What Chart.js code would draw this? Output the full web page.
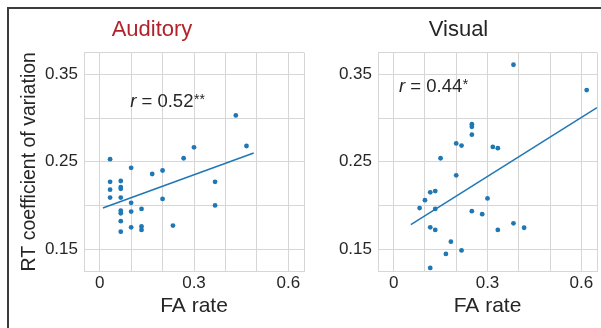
<!DOCTYPE html>
<html><head><meta charset="utf-8">
<script src="https://cdn.jsdelivr.net/npm/chart.js@4.4.1/dist/chart.umd.min.js"></script>
<style>
html,body{margin:0;padding:0;background:#fff;width:601px;height:328px;overflow:hidden;}
#frame{position:absolute;left:7px;top:7px;width:600px;height:330px;border-left:2px solid #3c3c3c;border-top:2px solid #3c3c3c;}
#c1{position:absolute;left:0;top:0;}
#c2{position:absolute;left:320px;top:0;}
</style></head><body>
<div id="frame"></div>
<canvas id="c1" width="320" height="328"></canvas>
<canvas id="c2" width="281" height="328"></canvas>
<script>
// ---- Data ----
const panelTitles = ['Auditory', 'Visual'];
const xAxisTitle = 'FA rate';
const yAxisTitle = 'RT coefficient of variation';
const xTickValues = [0, 0.3, 0.6];
const xTickLabels = ['0', '0.3', '0.6'];
const yTickValues = [0.15, 0.25, 0.35];
const yTickLabels = ['0.15', '0.25', '0.35'];
const xGridValues = [-0.05, 0, 0.1, 0.2, 0.3, 0.4, 0.5, 0.6, 0.65];
const yGridValues = [0.125, 0.15, 0.2, 0.25, 0.3, 0.35, 0.375];

const audFA = [0.033,0.033,0.033,0.033,
               0.067,0.067,0.067,0.067,0.067,0.067,0.067,0.067,
               0.1,0.1,0.1,0.1,
               0.133,0.133,0.133,
               0.167,0.2,0.2,0.233,0.267,0.3,0.367,0.367,0.433,0.467];
const audRT = [0.253,0.227,0.218,0.209,
               0.228,0.221,0.219,0.209,0.194,0.191,0.182,0.170,
               0.243,0.203,0.193,0.175,
               0.196,0.176,0.172,
               0.236,0.240,0.2075,0.177,0.254,0.2665,0.227,0.200,0.303,0.268];

const visFA = [0.383,0.617,0.25,0.25,0.25,0.2,0.217,0.317,0.333,0.15,0.2,0.117,0.133,0.1,
               0.083,0.133,0.3,0.25,0.283,0.117,0.133,0.333,0.383,0.417,0.183,0.167,0.217,0.117];
const visRT = [0.361,0.332,0.293,0.290,0.281,0.271,0.2685,0.267,0.2655,0.254,0.2345,0.215,0.2165,0.206,
               0.197,0.196,0.208,0.1935,0.190,0.175,0.172,0.172,0.1795,0.1745,0.1585,0.1445,0.1485,0.1285];

const audFitFA = [0.01, 0.49];
const audFitRT = [0.197, 0.260];
const visFitFA = [0.055, 0.65];
const visFitRT = [0.178, 0.312];

const audStat = {r: 'r', rest: ' = 0.52', stars: '**'};
const visStat = {r: 'r', rest: ' = 0.44', stars: '*'};

// ---- Styling ----
const FONT = "'Liberation Sans', Arial, Helvetica, sans-serif";
const BLUE = '#1f77b4';
const GRID = '#d6d6d6';
const TEXT = '#262626';

function pts(xs, ys){ return xs.map((x,i)=>({x:x, y:ys[i]})); }
function labelFor(v, vals, labels){
  for (let i = 0; i < vals.length; i++) if (Math.abs(v - vals[i]) < 1e-6) return labels[i];
  return '';
}

const annotPlugin = {
  id: 'statText',
  afterDatasetsDraw(chart, args, opts){
    const ctx = chart.ctx;
    const px = chart.scales.x.getPixelForValue(opts.x);
    const py = chart.scales.y.getPixelForValue(opts.y);
    ctx.save();
    ctx.fillStyle = TEXT;
    ctx.textBaseline = 'alphabetic';
    ctx.textAlign = 'left';
    ctx.font = 'italic 18.5px ' + FONT;
    ctx.fillText(opts.stat.r, px, py);
    let w = ctx.measureText(opts.stat.r).width;
    ctx.font = '18.5px ' + FONT;
    ctx.fillText(opts.stat.rest, px + w, py);
    w += ctx.measureText(opts.stat.rest).width;
    ctx.font = '14px ' + FONT;
    ctx.fillText(opts.stat.stars, px + w + 0.5, py - 3);
    ctx.restore();
  }
};

function makeChart(id, title, titleColor, fa, rt, fitFa, fitRt, yWidth, showYTitle, padRight, annot){
  return new Chart(document.getElementById(id), {
    type: 'scatter',
    data: {
      datasets: [
        {data: pts(fitFa, fitRt), showLine: true, borderColor: BLUE, borderWidth: 1.5,
         pointRadius: 0, fill: false, order: 2},
        {data: pts(fa, rt), backgroundColor: BLUE, borderWidth: 0, pointRadius: 2.4,
         pointHoverRadius: 2.4, order: 1}
      ]
    },
    options: {
      responsive: false, animation: false, devicePixelRatio: 1,
      layout: {padding: {left: 0, right: padRight, top: 0, bottom: 0}},
      plugins: {
        legend: {display: false}, tooltip: {enabled: false},
        title: {display: true, text: title, color: titleColor,
                font: {family: FONT, size: 22, weight: 'normal', lineHeight: 1.2},
                padding: {top: 16.3, bottom: 9.8}},
        statText: annot
      },
      scales: {
        x: {
          type: 'linear', min: -0.05, max: 0.65,
          afterBuildTicks(s){ s.ticks = xGridValues.map(v => ({value: v})); },
          afterFit(s){ s.height = 57; },
          grid: {color: GRID, lineWidth: 1, drawTicks: false},
          border: {display: true, color: GRID, width: 1},
          ticks: {autoSkip: false, maxRotation: 0, padding: 2, color: TEXT,
                  font: {family: FONT, size: 17},
                  callback(v){ return labelFor(v, xTickValues, xTickLabels); }},
          title: {display: true, text: xAxisTitle, color: TEXT,
                  font: {family: FONT, size: 21, lineHeight: 1.2}, padding: {top: 0, bottom: 9.4}}
        },
        y: {
          type: 'linear', min: 0.125, max: 0.375,
          afterBuildTicks(s){ s.ticks = yGridValues.map(v => ({value: v})); },
          afterFit(s){ s.width = yWidth; },
          grid: {color: GRID, lineWidth: 1, drawTicks: false},
          border: {display: true, color: GRID, width: 1},
          ticks: {autoSkip: false, padding: 6, color: TEXT,
                  font: {family: FONT, size: 17},
                  callback(v){ return labelFor(v, yTickValues, yTickLabels); }},
          title: {display: showYTitle, text: yAxisTitle, color: TEXT,
                  font: {family: FONT, size: 19.5, lineHeight: 1.2}, padding: {top: 17.6, bottom: 0}}
        }
      }
    },
    plugins: [annotPlugin]
  });
}

makeChart('c1', panelTitles[0], '#b2222a', audFA, audRT, audFitFA, audFitRT, 84, true, 16,
          {x: 0.097, y: 0.313, stat: audStat});
makeChart('c2', panelTitles[1], TEXT, visFA, visRT, visFitFA, visFitRT, 58, false, 4,
          {x: 0.017, y: 0.33, stat: visStat});
</script>
</body></html>
